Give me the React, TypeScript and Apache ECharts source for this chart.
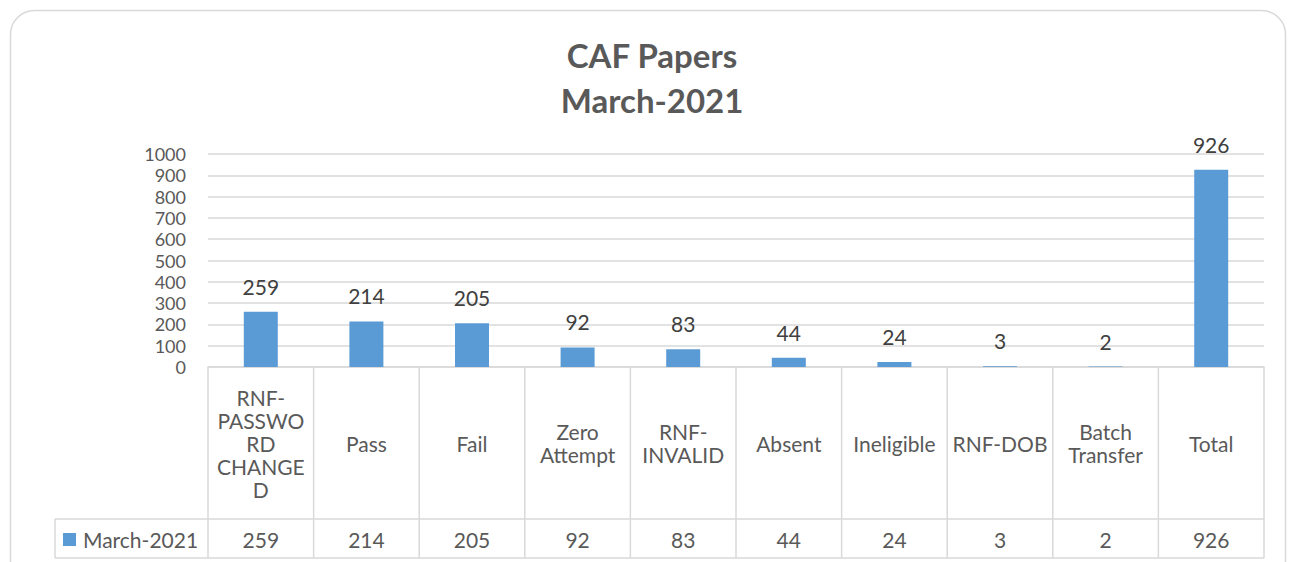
import React, { useEffect, useRef } from "react";
import * as echarts from "echarts";

const titleLines = ["CAF Papers", "March-2021"];
const seriesName = "March-2021";
const categories = ["RNF-PASSWORD CHANGED", "Pass", "Fail", "Zero Attempt", "RNF-INVALID", "Absent", "Ineligible", "RNF-DOB", "Batch Transfer", "Total"];
const categoryLabels = ["RNF-\nPASSWO\nRD\nCHANGE\nD", "Pass", "Fail", "Zero\nAttempt", "RNF-\nINVALID", "Absent", "Ineligible", "RNF-DOB", "Batch\nTransfer", "Total"];
const values = [259, 214, 205, 92, 83, 44, 24, 3, 2, 926];
const yMin = 0;
const yMax = 1000;
const yInterval = 100;

const W = 1289;
const H = 562;
const FONT = "Lato, 'Open Sans', sans-serif";
const BLUE = "#5B9BD5";
const GRID = "#d9d9d9";
const FS = 21;

export default function App() {
  const ref = useRef<HTMLDivElement>(null);
  useEffect(() => {
    if (!ref.current) return;
    const chart = echarts.init(ref.current, null, { renderer: "svg", width: W, height: H });
    const gridLeft = 208;
    const gridRight = W - 1264;
    const gridTop = 154;
    const gridBottomY = 367;
    chart.setOption({
      animation: false,
      backgroundColor: "#ffffff",
      grid: { left: gridLeft, right: gridRight, top: gridTop, bottom: H - gridBottomY, containLabel: false },
      xAxis: {
        type: "category",
        data: categories,
        axisLine: { show: true, lineStyle: { color: GRID, width: 1.5 } },
        axisTick: { show: false },
        axisLabel: { show: false },
        splitLine: { show: false },
      },
      yAxis: {
        type: "value",
        min: yMin,
        max: yMax,
        interval: yInterval,
        axisLine: { show: false },
        axisTick: { show: false },
        axisLabel: {
          fontFamily: FONT,
          fontSize: 18,
          lineHeight: 17,
          color: "#595959",
          margin: 22,
          showMinLabel: true,
          showMaxLabel: true,
          hideOverlap: false,
          formatter: (v: number) => String(v),
        },
        splitLine: { lineStyle: { color: GRID, width: 1.5 } },
      },
      series: [
        {
          name: seriesName,
          type: "bar",
          data: values,
          barWidth: 34,
          itemStyle: { color: BLUE },
          label: { show: true, position: "top", distance: 15, fontFamily: FONT, fontSize: FS, color: "#404040" },
        },
      ],
    });

    const n = categories.length;
    const x0 = chart.convertToPixel({ xAxisIndex: 0 }, 0) as number;
    const x1 = chart.convertToPixel({ xAxisIndex: 0 }, 1) as number;
    const step = x1 - x0;
    const left = x0 - step / 2;
    const right = left + step * n;
    const yTop = chart.convertToPixel({ yAxisIndex: 0 }, 0) as number;
    const yMid = 519;
    const yBot = 558;
    const tableLeft = 55;
    const ls = { stroke: GRID, lineWidth: 1.5 };
    const els: any[] = [];
    els.push({ type: "rect", shape: { x: 10.5, y: 10.5, width: 1275, height: 575, r: 24 }, style: { fill: "none", stroke: GRID, lineWidth: 1.5 }, z: 0 });
    els.push({
      type: "text",
      x: 652,
      y: 55,
      style: { text: titleLines[0], fontFamily: FONT, fontSize: 33, fontWeight: "bold", fill: "#595959", align: "center", verticalAlign: "middle" },
    });
    els.push({
      type: "text",
      x: 652,
      y: 100,
      style: { text: titleLines[1], fontFamily: FONT, fontSize: 33, fontWeight: "bold", fill: "#595959", align: "center", verticalAlign: "middle" },
    });
    els.push({ type: "line", shape: { x1: tableLeft, y1: yMid, x2: right, y2: yMid }, style: ls });
    els.push({ type: "line", shape: { x1: tableLeft, y1: yBot, x2: right, y2: yBot }, style: ls });
    els.push({ type: "line", shape: { x1: tableLeft, y1: yMid, x2: tableLeft, y2: yBot }, style: ls });
    for (let i = 0; i <= n; i++) {
      const x = left + step * i;
      els.push({ type: "line", shape: { x1: x, y1: yTop, x2: x, y2: yBot }, style: ls });
    }
    for (let i = 0; i < n; i++) {
      const cx = chart.convertToPixel({ xAxisIndex: 0 }, i) as number;
      els.push({
        type: "text",
        x: cx,
        y: (yTop + yMid) / 2,
        style: { text: categoryLabels[i], fontFamily: FONT, fontSize: FS, fill: "#595959", align: "center", verticalAlign: "middle", lineHeight: 23 },
      });
      els.push({
        type: "text",
        x: cx,
        y: (yMid + yBot) / 2 + 1,
        style: { text: String(values[i]), fontFamily: FONT, fontSize: FS, fill: "#595959", align: "center", verticalAlign: "middle" },
      });
    }
    els.push({ type: "rect", shape: { x: 63, y: 533, width: 13, height: 13 }, style: { fill: BLUE } });
    els.push({
      type: "text",
      x: 83,
      y: (yMid + yBot) / 2 + 1,
      style: { text: seriesName, fontFamily: FONT, fontSize: FS, fill: "#595959", align: "left", verticalAlign: "middle" },
    });
    chart.setOption({ graphic: { elements: els } });
    return () => chart.dispose();
  }, []);
  return <div ref={ref} style={{ position: "fixed", left: 0, top: 0, width: W, height: H }} />;
}
